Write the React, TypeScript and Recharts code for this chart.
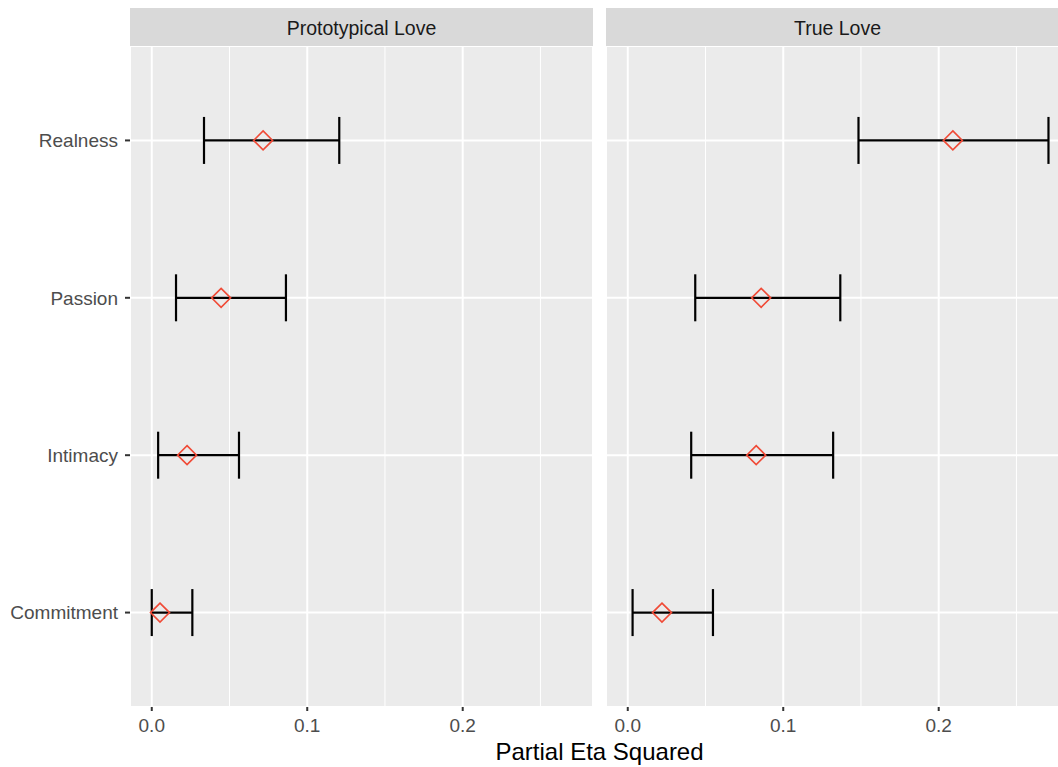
import { ScatterChart, Scatter, XAxis, YAxis, CartesianGrid, ReferenceLine, ErrorBar } from "recharts";

const categories = ["Commitment", "Intimacy", "Passion", "Realness"];
const panels = ["Prototypical Love", "True Love"];

// Prototypical Love
const protoEstimate = [0.0053, 0.0227, 0.0446, 0.0716];
const protoLower = [0.0, 0.0041, 0.0156, 0.0336];
const protoUpper = [0.0261, 0.0561, 0.0863, 0.1206];

// True Love
const trueEstimate = [0.022, 0.0826, 0.0858, 0.2091];
const trueLower = [0.0031, 0.0408, 0.0434, 0.1484];
const trueUpper = [0.0548, 0.1321, 0.1367, 0.2706];

const xTicks = [0, 0.1, 0.2];
const xMinor = [0.05, 0.15, 0.25];
const xDomain = [-0.014, 0.2838];

const FONT = "'Liberation Sans', Arial, Helvetica, sans-serif";
const RED = "#F04A36";

const build = (est: number[], lo: number[], hi: number[]) =>
  categories.map((c, i) => ({
    name: c,
    y: i + 1,
    x: est[i],
    err: [est[i] - lo[i], hi[i] - est[i]],
  }));

const Diamond = (props: any) => {
  const { cx, cy } = props;
  if (cx == null || cy == null) return null;
  const r = 9.5;
  return (
    <path
      d={`M${cx},${cy - r}L${cx + r},${cy}L${cx},${cy + r}L${cx - r},${cy}Z`}
      fill="none"
      stroke={RED}
      strokeWidth={1.6}
    />
  );
};

const Panel = ({ data, showY }: { data: any[]; showY: boolean }) => (
  <ScatterChart
    width={showY ? 593 : 476}
    height={767}
    margin={{ top: 46, right: 0, bottom: 0, left: showY ? 0 : 13 }}
  >
    <CartesianGrid fill="#EBEBEB" stroke="#FFFFFF" strokeWidth={2} />
    {xMinor.map(v => (
      <ReferenceLine key={v} x={v} stroke="#FFFFFF" strokeWidth={1} ifOverflow="hidden" />
    ))}
    <XAxis
      type="number"
      dataKey="x"
      domain={xDomain}
      ticks={xTicks}
      allowDataOverflow
      height={60}
      tickFormatter={v => v.toFixed(1)}
      tick={{ fontSize: 19, fill: "#4D4D4D", fontFamily: FONT }}
      tickLine={{ stroke: "#333333", strokeWidth: 2 }}
      tickSize={4}
      tickMargin={8}
      axisLine={false}
    />
    <YAxis
      type="number"
      dataKey="y"
      domain={[0.4, 4.6]}
      ticks={[1, 2, 3, 4]}
      hide={!showY}
      width={130}
      tickFormatter={v => categories[v - 1]}
      tick={{ fontSize: 19, fill: "#4D4D4D", fontFamily: FONT }}
      tickLine={{ stroke: "#333333", strokeWidth: 2 }}
      tickSize={5}
      tickMargin={7}
      axisLine={false}
    />
    <Scatter data={data} shape={<Diamond />} isAnimationActive={false}>
      <ErrorBar dataKey="err" direction="x" width={23.5} stroke="#000000" strokeWidth={2.2} isAnimationActive={false} />
    </Scatter>
  </ScatterChart>
);

const stripStyle: any = {
  position: "absolute",
  top: 8,
  height: 38,
  background: "#D9D9D9",
  color: "#1A1A1A",
  fontSize: 19.5,
  lineHeight: "40px",
  textAlign: "center",
};

export default function App() {
  return (
    <div style={{ position: "relative", width: 1058, height: 767, background: "#fff", overflow: "hidden", fontFamily: FONT }}>
      <style>{"body{margin:0}"}</style>
      <div style={{ position: "absolute", left: 0, top: 0 }}>
        <Panel data={build(protoEstimate, protoLower, protoUpper)} showY />
      </div>
      <div style={{ position: "absolute", left: 593, top: 0 }}>
        <Panel data={build(trueEstimate, trueLower, trueUpper)} showY={false} />
      </div>
      <div style={{ ...stripStyle, left: 130, width: 463 }}>{panels[0]}</div>
      <div style={{ ...stripStyle, left: 606, width: 463 }}>{panels[1]}</div>
      <div
        style={{
          position: "absolute",
          left: 130,
          width: 939,
          top: 738,
          textAlign: "center",
          fontSize: 24,
          color: "#000",
        }}
      >
        Partial Eta Squared
      </div>
    </div>
  );
}
